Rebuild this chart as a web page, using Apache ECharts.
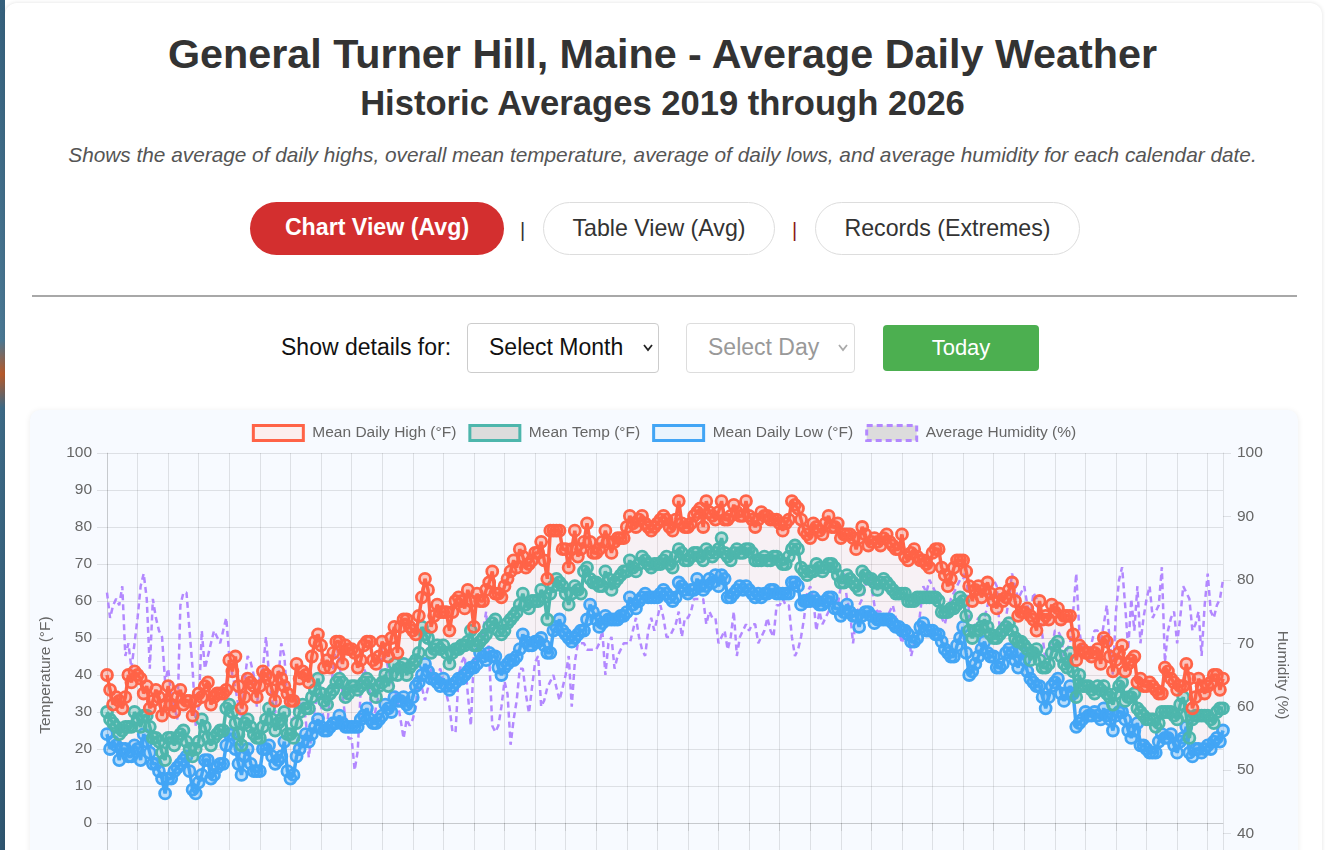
<!DOCTYPE html>
<html>
<head>
<meta charset="utf-8">
<script src="https://cdn.jsdelivr.net/npm/echarts@6/dist/echarts.min.js"></script>
<style>
    html, body { margin: 0; padding: 0; width: 1325px; height: 850px; overflow: hidden; background: #fff; font-family: "Liberation Sans", Arial, sans-serif; }
    .strip { position: absolute; left: 0; top: 0; width: 5px; height: 850px; background: linear-gradient(180deg, #35607c 0%, #4a7893 40%, #b85a2a 44%, #3d6a86 48%, #2f5670 100%); }
    .page { position: absolute; left: 5px; top: 3px; width: 1317px; height: 900px; background: #fff; border-radius: 12px; box-shadow: 0 0 4px rgba(0,0,0,0.12); }
    .t { position: absolute; left: 0; width: 1325px; text-align: center; line-height: 1; color: #333; white-space: nowrap; }
    .btn { position: absolute; height: 53px; border-radius: 27px; box-sizing: border-box; font-size: 23.2px; line-height: 51px; text-align: center; }
    .sep { position: absolute; font-size: 20px; line-height: 1; }
    .sel { position: absolute; box-sizing: border-box; border: 1px solid #ccc; border-radius: 4px; background: #fff; font-size: 23px; line-height: 47px; }
    .card { position: absolute; left: 30px; top: 410px; width: 1268px; height: 560px; background: #f7faff; border-radius: 10px; box-shadow: 0 1px 6px rgba(0,0,0,0.08); }
    #chart { position: absolute; left: 30px; top: 410px; width: 1268px; height: 560px; }
</style>
</head>
<body>
<div class="strip"></div>
<div class="page"></div>
<div class="t" style="top:34px; font-size:41.3px; font-weight:bold;">General Turner Hill, Maine - Average Daily Weather</div>
<div class="t" style="top:86px; font-size:34.6px; font-weight:bold;">Historic Averages 2019 through 2026</div>
<div class="t" style="top:145px; font-size:20.8px; font-style:italic; color:#555;">Shows the average of daily highs, overall mean temperature, average of daily lows, and average humidity for each calendar date.</div>

<div class="btn" style="left:250px; top:202px; width:254px; background:#d32f2f; color:#fff; font-weight:bold;">Chart View (Avg)</div>
<div class="sep" style="left:520px; top:220px; color:#333;">|</div>
<div class="btn" style="left:543px; top:202px; width:232px; border:1px solid #ddd; color:#333; background:#fff;">Table View (Avg)</div>
<div class="sep" style="left:792px; top:220px; color:#8b1a1a;">|</div>
<div class="btn" style="left:815px; top:202px; width:265px; border:1px solid #ddd; color:#333; background:#fff;">Records (Extremes)</div>

<div style="position:absolute; left:32px; top:295px; width:1265px; height:2px; background:#a8a8a8;"></div>

<div style="position:absolute; left:281px; top:336px; font-size:23px; line-height:1; color:#111;">Show details for:</div>
<div class="sel" style="left:467px; top:323px; width:192px; height:50px; color:#111;">
    <span style="position:absolute; left:21px;">Select Month</span>
    <svg style="position:absolute; left:175px; top:20px;" width="10" height="8"><polyline points="1,1 5,6 9,1" fill="none" stroke="#222" stroke-width="1.8"/></svg>
</div>
<div class="sel" style="left:686px; top:323px; width:169px; height:50px; color:#999; border-color:#ddd;">
    <span style="position:absolute; left:21px;">Select Day</span>
    <svg style="position:absolute; left:151px; top:20px;" width="10" height="8"><polyline points="1,1 5,6 9,1" fill="none" stroke="#aaa" stroke-width="1.8"/></svg>
</div>
<div style="position:absolute; left:883px; top:325px; width:156px; height:46px; background:#4caf50; border-radius:4px; color:#fff; font-size:22px; line-height:46px; text-align:center;">Today</div>

<div class="card"></div>
<div id="chart"></div>

<script>
    var months = ['Jan', 'Feb', 'Mar', 'Apr', 'May', 'Jun', 'Jul', 'Aug', 'Sep', 'Oct', 'Nov', 'Dec'];
    var monthDays = [31, 29, 31, 30, 31, 30, 31, 31, 30, 31, 30, 31];

    // Mean Daily High (°F), one value per calendar date
    var highTemps = [
        40,36,32,34,33,31,34,40,38,41, 40,39,35,37,31,33,36,34,29,32,
        37,32,30,34,36,32,33,33,29,33, 35,34,37,38,32,34,35,35,35,36,
        44,41,45,37,31,34,39,38,37,34, 37,41,40,39,36,33,41,39,37,35,
        33,33,43,39,41,40,38,45,49,51, 48,42,44,42,46,49,49,43,48,47,
        47,46,42,44,48,49,49,44,43,45, 49,47,45,50,53,46,53,55,55,53,
        52,51,56,61,66,63,53,56,59,57, 57,57,52,57,60,61,60,58,63,60,
        53,62,60,60,63,65,68,62,62,61, 64,66,68,71,69,74,72,69,70,71,
        73,73,76,71,66,79,79,79,79,74, 74,69,74,79,72,74,76,81,76,73,
        73,74,76,79,76,73,76,77,77,77, 80,83,81,80,82,83,81,80,79,80,
        81,82,83,82,80,79,82,87,81,80, 80,81,83,84,85,80,87,84,83,82,
        84,87,82,82,83,86,84,83,83,87, 83,82,80,82,84,83,83,82,82,82,
        81,79,81,82,87,86,85,82,79,78, 77,81,80,79,78,81,83,80,80,81,
        77,78,78,78,77,74,77,80,78,75, 76,77,76,75,77,78,76,75,74,74,
        78,72,71,73,74,72,71,71,70,69, 73,74,74,69,67,64,66,69,71,71,
        71,68,64,60,63,64,61,63,65,62, 60,58,62,60,61,63,65,60,56,57,
        57,58,56,55,52,60,55,56,55,59, 57,58,55,56,56,56,51,44,48,47,
        46,46,45,46,47,43,50,49,45,41, 44,46,48,41,43,44,45,38,39,37,
        37,38,37,36,35,35,42,41,39,38, 36,37,37,43,39,31,34,39,37,35,
        37,38,40,40,36,39
    ];

    // Mean Temp (°F)
    var meanTemps = [
        30,28,27,26,24,25,26,26,26,30, 28,26,29,29,26,23,23,22,19,17,
        23,23,21,23,24,25,22,20,18,20, 22,28,26,23,21,23,24,25,25,31,
        32,30,27,24,21,27,28,26,24,23, 23,26,28,31,28,25,27,28,30,24,
        24,23,27,30,32,31,31,34,36,39, 35,33,32,35,36,38,39,38,34,35,
        37,37,36,37,38,39,38,36,34,37, 38,40,37,40,43,40,42,43,40,42,
        43,44,46,53,51,50,46,47,48,47, 48,46,43,46,47,47,48,48,49,52,
        48,48,49,50,51,53,54,55,52,51, 52,54,55,56,57,59,62,59,58,60,
        60,60,63,61,55,62,64,66,65,64, 62,59,62,64,63,62,68,69,66,65,
        65,64,64,68,66,63,65,66,67,68, 68,71,69,68,70,72,71,70,69,70,
        70,70,71,72,70,69,72,74,73,71, 71,72,73,73,72,71,74,73,72,73,
        74,77,73,72,71,73,74,73,73,74, 74,73,71,71,71,72,71,71,72,72,
        71,70,70,72,74,75,74,69,68,67, 68,68,70,69,68,69,70,70,69,67,
        65,65,67,66,65,64,63,68,67,66, 66,65,63,65,66,65,64,63,62,62,
        62,62,60,60,60,61,61,61,61,61, 61,61,60,57,57,57,58,58,59,61,
        60,56,52,50,52,52,53,55,53,51, 50,50,51,52,53,54,52,50,49,49,
        48,47,44,46,47,44,42,42,43,46, 48,49,45,43,42,46,41,34,40,37,
        37,37,36,35,37,36,37,35,34,32, 35,37,38,33,34,34,35,31,30,29,
        28,28,28,26,27,30,30,30,30,29, 28,32,34,29,23,28,29,29,29,29,
        29,28,27,30,31,31
    ];

    // Mean Daily Low (°F)
    var lowTemps = [
        24,20,22,21,17,20,20,18,18,21, 20,17,24,22,19,16,16,14,12,8,
        12,12,14,15,16,17,18,14,9,8, 11,13,17,17,12,13,15,16,16,21,
        24,24,20,16,13,18,20,16,14,14, 14,20,20,21,18,16,17,18,22,14,
        12,13,18,20,22,24,22,24,26,28, 26,25,25,26,27,27,29,27,26,26,
        26,26,26,28,29,31,28,27,27,28, 29,32,31,30,34,33,33,34,32,31,
        34,37,38,40,43,41,39,39,38,37, 39,37,36,37,38,39,39,40,41,42,
        42,43,46,45,44,46,45,45,42,40, 42,43,44,44,45,47,51,49,48,48,
        49,49,50,48,46,46,52,53,55,52, 51,50,49,50,51,52,52,55,59,57,
        55,53,54,56,55,55,55,55,56,56, 57,61,59,58,60,61,62,61,61,61,
        61,62,63,62,61,60,61,65,64,63, 62,63,63,66,64,63,64,66,65,67,
        64,67,66,61,61,62,63,64,63,64, 63,62,61,62,61,62,62,63,63,62,
        62,62,62,62,65,65,64,59,60,60, 60,61,60,59,59,60,61,61,58,58,
        56,57,59,57,56,56,53,56,57,57, 56,54,55,55,55,55,55,54,53,53,
        52,52,51,49,49,50,53,54,52,52, 52,51,51,49,47,46,45,45,48,50,
        53,46,40,41,43,45,47,49,46,45, 45,42,42,43,46,47,46,44,42,46,
        44,41,39,38,37,37,34,31,34,37, 38,39,35,33,35,37,35,26,27,28,
        30,29,29,30,29,28,31,29,28,25, 29,30,30,28,25,23,25,27,21,21,
        20,19,19,19,22,24,23,23,24,21, 19,22,23,26,19,18,20,20,19,20,
        21,20,22,23,22,25
    ];

    // Average Humidity (%)
    var humidity = [
        78,74,76,77,76,79,68,70,66,70, 74,79,81,77,66,77,74,72,71,64,
        66,62,60,58,76,78,78,72,66,57, 60,72,66,68,70,72,71,70,72,74,
        68,65,63,60,58,64,68,67,65,60, 65,66,71,65,61,59,64,70,68,61,
        58,58,62,60,61,58,52,56,60,62, 60,58,57,62,66,70,67,62,58,55,
        55,50,53,63,66,65,62,57,60,62, 70,68,66,64,63,61,58,55,58,57,
        58,60,65,63,61,63,66,64,65,66, 64,62,60,56,56,65,67,68,62,57,
        68,67,68,72,75,68,57,56,57,60, 64,62,54,58,61,66,66,62,59,63,
        67,68,60,61,63,64,65,63,61,63, 65,68,60,67,70,70,70,69,69,69,
        69,70,72,65,70,71,66,68,69,70, 70,70,72,74,71,69,68,72,74,72,
        74,76,74,71,71,72,73,75,71,74, 74,75,77,77,77,77,73,75,74,74,
        70,71,72,69,71,75,68,71,72,73, 72,73,73,70,71,72,74,72,71,76,
        76,77,76,76,71,68,69,71,74,78, 79,77,72,75,73,74,75,77,76,76,
        79,81,77,75,70,74,76,77,79,81, 79,76,75,75,73,74,75,76,74,72,
        70,72,73,68,70,71,75,79,78,80, 79,78,77,74,73,75,77,78,79,80,
        80,82,74,71,73,74,72,74,76,78, 80,79,72,71,74,77,81,79,77,78,
        79,76,74,78,77,74,71,67,66,69, 72,72,71,68,69,70,75,81,72,69,
        68,67,70,72,72,70,73,76,70,65, 75,80,82,76,69,77,72,79,70,74,
        77,79,74,75,76,82,67,72,74,75, 70,74,79,78,77,72,73,75,68,76,
        81,75,74,76,77,80
    ];

    var tempTicks = { min: -20, max: 100, step: 10 };
    var humTicks = { min: 30, max: 100, step: 10 };

    // 日期标签
    var dayLabels = [];
    for (var m = 0; m < months.length; m++) {
        for (var d = 1; d <= monthDays[m]; d++) {
            dayLabels.push(months[m] + ' ' + d);
        }
    }

    // 高低温之间的填充带
    var bandHeight = [];
    for (var i = 0; i < highTemps.length; i++) {
        bandHeight.push(highTemps[i] - lowTemps[i]);
    }

    var gridColor = 'rgba(0,0,0,0.1)';
    var font = 'Liberation Sans, Arial, sans-serif';

    function tempSeries(name, data, color, fill, z) {
        return {
            name: name,
            type: 'line',
            data: data,
            z: z,
            symbol: 'circle',
            symbolSize: 11,
            showSymbol: true,
            showAllSymbol: true,
            lineStyle: { color: color, width: 3.5 },
            itemStyle: { color: fill, borderColor: color, borderWidth: 2.8 },
            emphasis: { disabled: true }
        };
    }

    var myChart = echarts.init(document.getElementById('chart'));
    var option = {
        animation: false,
        legend: {
            top: 9,
            left: 'center',
            itemWidth: 50,
            itemHeight: 15,
            itemGap: 12,
            selectedMode: false,
            textStyle: { color: '#666', fontSize: 15.5, fontFamily: font, padding: [0, 0, 0, 4] },
            data: [
                { name: 'Mean Daily High (°F)', icon: 'rect', itemStyle: { color: '#fcefee', borderColor: '#ff6347', borderWidth: 3 } },
                { name: 'Mean Temp (°F)', icon: 'rect', itemStyle: { color: '#dcdcdc', borderColor: '#4db6ac', borderWidth: 3 } },
                { name: 'Mean Daily Low (°F)', icon: 'rect', itemStyle: { color: '#eaf4fd', borderColor: '#42a5f5', borderWidth: 3 } },
                { name: 'Average Humidity (%)', icon: 'rect', itemStyle: { color: '#dcdcdc', borderColor: '#b388ff', borderWidth: 3, borderType: [6, 4] } }
            ]
        },
        grid: { left: 76, right: 72, top: 43, height: 444 },
        xAxis: {
            type: 'category',
            boundaryGap: false,
            data: dayLabels,
            axisLine: { show: true, lineStyle: { color: gridColor } },
            axisTick: { show: true, interval: 9, length: 8, lineStyle: { color: gridColor } },
            axisLabel: { interval: 9, color: '#666', fontSize: 14, rotate: 45 },
            splitLine: { show: true, interval: 9, lineStyle: { color: gridColor } }
        },
        yAxis: [
            {
                type: 'value',
                min: tempTicks.min,
                max: tempTicks.max,
                interval: tempTicks.step,
                name: 'Temperature (°F)',
                nameLocation: 'middle',
                nameRotate: 90,
                nameGap: 53,
                nameTextStyle: { color: '#666', fontSize: 15.5, fontFamily: font },
                axisLine: { show: true, lineStyle: { color: gridColor } },
                axisTick: { show: true, length: 10, lineStyle: { color: gridColor } },
                axisLabel: { color: '#666', fontSize: 15.5, margin: 15, fontFamily: font },
                splitLine: { show: true, lineStyle: { color: gridColor } }
            },
            {
                type: 'value',
                min: humTicks.min,
                max: humTicks.max,
                interval: humTicks.step,
                position: 'right',
                name: 'Humidity (%)',
                nameLocation: 'middle',
                nameRotate: -90,
                nameGap: 51,
                nameTextStyle: { color: '#666', fontSize: 15.5, fontFamily: font },
                axisLine: { show: true, lineStyle: { color: gridColor } },
                axisTick: { show: true, length: 8, lineStyle: { color: gridColor } },
                axisLabel: { color: '#666', fontSize: 15.5, margin: 14, fontFamily: font },
                splitLine: { show: false }
            }
        ],
        series: [
            {
                name: 'bandBase',
                type: 'line',
                data: lowTemps,
                stack: 'band',
                symbol: 'none',
                silent: true,
                z: 1,
                lineStyle: { opacity: 0 }
            },
            {
                name: 'bandFill',
                type: 'line',
                data: bandHeight,
                stack: 'band',
                symbol: 'none',
                silent: true,
                z: 1,
                lineStyle: { opacity: 0 },
                areaStyle: { color: 'rgba(255,99,71,0.08)', origin: 'start' }
            },
            {
                name: 'Average Humidity (%)',
                type: 'line',
                yAxisIndex: 1,
                data: humidity,
                symbol: 'none',
                z: 2,
                lineStyle: { color: '#b388ff', width: 2.5, type: [6, 4] },
                itemStyle: { color: '#b388ff' }
            },
            tempSeries('Mean Daily Low (°F)', lowTemps, '#42a5f5', 'rgba(66,165,245,0.35)', 3),
            tempSeries('Mean Temp (°F)', meanTemps, '#4db6ac', 'rgba(77,182,172,0.35)', 4),
            tempSeries('Mean Daily High (°F)', highTemps, '#ff6347', 'rgba(255,99,71,0.35)', 5)
        ]
    };

    myChart.setOption(option);
</script>
</body>
</html>
